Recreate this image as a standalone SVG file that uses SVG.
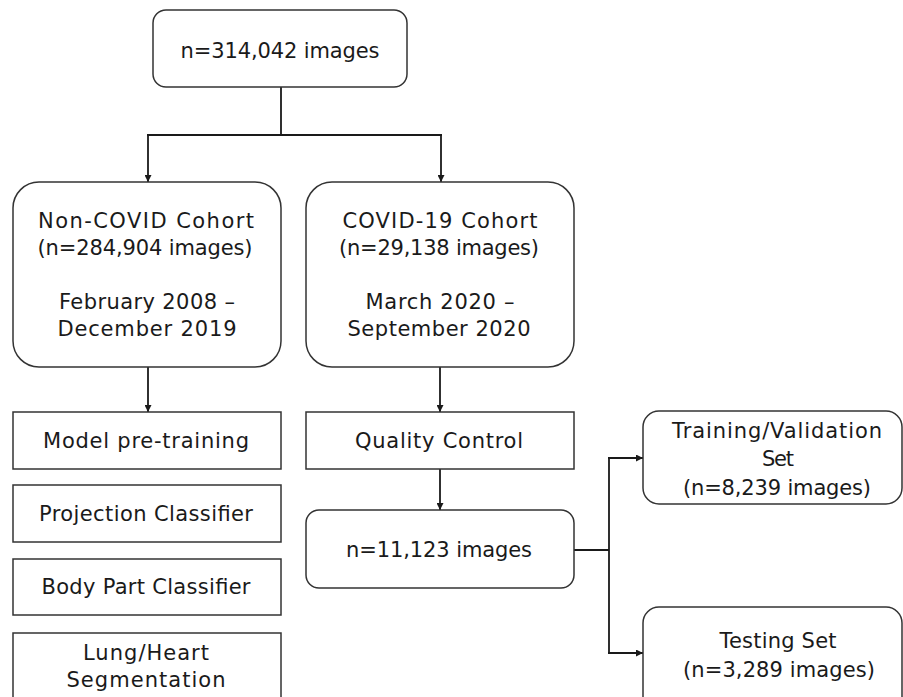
<svg xmlns="http://www.w3.org/2000/svg" width="903" height="697" viewBox="0 0 903 697">
<style>
  .box { fill: #ffffff; stroke: #333333; stroke-width: 1.5; }
  .t { font-family: "DejaVu Sans", "Liberation Sans", sans-serif; font-size: 21px; fill: #1a1a1a; text-anchor: middle; }
  .c { fill: none; stroke: #1a1a1a; stroke-width: 1.8; }
</style>
<defs>
  <marker id="ah" viewBox="0 0 10 10" refX="10" refY="5" markerWidth="7" markerHeight="7" markerUnits="userSpaceOnUse" orient="auto">
    <path d="M0,0 L10,5 L0,10 Z" fill="#1a1a1a"/>
  </marker>
</defs>
<rect width="903" height="697" fill="#ffffff"/>

<g id="connectors">
  <path class="c" d="M281,87 V135 M147,135 H442"/>
  <path class="c" d="M148,135 V182" marker-end="url(#ah)"/>
  <path class="c" d="M441,135 V182" marker-end="url(#ah)"/>
  <path class="c" d="M148,367 V412" marker-end="url(#ah)"/>
  <path class="c" d="M440,367 V412" marker-end="url(#ah)"/>
  <path class="c" d="M440,469 V510" marker-end="url(#ah)"/>
  <path class="c" d="M574,550 H609 M609,457 V654"/>
  <path class="c" d="M608,458 H643" marker-end="url(#ah)"/>
  <path class="c" d="M608,653 H643" marker-end="url(#ah)"/>
</g>

<g id="total">
  <rect class="box" x="153" y="10" width="254" height="77" rx="13"/>
  <text class="t" x="280" y="58" textLength="199">n=314,042 images</text>
</g>

<g id="noncovid">
  <rect class="box" x="13" y="182" width="268" height="185" rx="26"/>
  <text class="t" x="146" y="228" textLength="216">Non-COVID Cohort</text>
  <text class="t" x="145" y="255" textLength="215">(n=284,904 images)</text>
  <text class="t" x="147" y="309" textLength="176">February 2008 –</text>
  <text class="t" x="147" y="336" textLength="179">December 2019</text>
</g>

<g id="covid">
  <rect class="box" x="306" y="182" width="268" height="185" rx="26"/>
  <text class="t" x="440" y="228" textLength="195">COVID-19 Cohort</text>
  <text class="t" x="439" y="255" textLength="200">(n=29,138 images)</text>
  <text class="t" x="440" y="309" textLength="149">March 2020 –</text>
  <text class="t" x="439" y="336" textLength="183">September 2020</text>
</g>

<g id="pretraining">
  <rect class="box" x="13" y="412" width="268" height="57"/>
  <text class="t" x="146" y="448" textLength="206">Model pre-training</text>
</g>

<g id="projection">
  <rect class="box" x="13" y="485" width="268" height="57"/>
  <text class="t" x="146" y="521" textLength="214">Projection Classifier</text>
</g>

<g id="bodypart">
  <rect class="box" x="13" y="559" width="268" height="56"/>
  <text class="t" x="146" y="594" textLength="209">Body Part Classifier</text>
</g>

<g id="segmentation">
  <rect class="box" x="13" y="633" width="268" height="80"/>
  <text class="t" x="146" y="660" textLength="126">Lung/Heart</text>
  <text class="t" x="146" y="687" textLength="159">Segmentation</text>
</g>

<g id="qc">
  <rect class="box" x="306" y="412" width="268" height="57"/>
  <text class="t" x="439" y="448" textLength="168">Quality Control</text>
</g>

<g id="filtered">
  <rect class="box" x="306" y="510" width="268" height="78" rx="13"/>
  <text class="t" x="439" y="557" textLength="186">n=11,123 images</text>
</g>

<g id="trainval">
  <rect class="box" x="643" y="411" width="259" height="93" rx="16"/>
  <text class="t" x="777" y="438" textLength="210">Training/Validation</text>
  <text class="t" x="778" y="466" textLength="32">Set</text>
  <text class="t" x="777" y="495" textLength="188">(n=8,239 images)</text>
</g>

<g id="testing">
  <rect class="box" x="643" y="607" width="259" height="110" rx="16"/>
  <text class="t" x="778" y="648" textLength="117">Testing Set</text>
  <text class="t" x="779" y="677" textLength="192">(n=3,289 images)</text>
</g>
</svg>
